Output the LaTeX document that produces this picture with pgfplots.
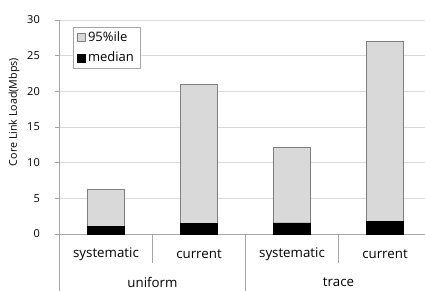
\documentclass[border=0pt]{standalone}
\usepackage{pgfplots}
\pgfplotsset{compat=1.18}
\usepackage{fontspec}
\setmainfont{Open Sans}
\definecolor{barfill}{HTML}{D9D9D9}
\definecolor{barline}{HTML}{7F7F7F}
\definecolor{gridc}{HTML}{D9D9D9}
\definecolor{axc}{HTML}{A6A6A6}
\begin{document}
\begin{tikzpicture}[x=1bp,y=1bp]
\useasboundingbox (0,0) rectangle (425,291);
\begin{axis}[
  at={(59.5bp,57bp)}, anchor=south west,
  scale only axis, width=365.5bp, height=214bp,
  ybar stacked, bar width=0.4,
  xmin=-0.5, xmax=3.43, ymin=0, ymax=30,
  ytick={0,5,...,30},
  ymajorgrids, grid style={gridc, line width=0.8bp},
  axis x line*=bottom, axis y line*=left,
  axis line style={axc, line width=0.8bp},
  /pgf/number format/assume math mode=true,
  yticklabel style={font=\fontsize{11bp}{13bp}\selectfont, inner sep=0pt, anchor=east, xshift=-15bp},
  ytick style={axc, line width=0.8bp},
  tick align=outside, major tick length=4.5bp,
  xtick={0,1,2,3},
  xticklabels={systematic,current,systematic,current},
  xtick style={draw=none},
  xticklabel style={font=\fontsize{13.3bp}{15bp}\selectfont, inner sep=0pt, anchor=center, yshift=-15.5bp},
  extra x ticks={0.5,2.5},
  extra x tick labels={uniform,trace},
  extra x tick style={grid=none, xtick style={draw=none}, xticklabel style={yshift=-28bp}},
  ylabel={Core Link Load(Mbps)},
  ylabel style={font=\fontsize{10.7bp}{12bp}\selectfont, at={(axis description cs:0,0.570)}, anchor=center, yshift=45.5bp},
  clip=false,
  legend style={at={(axis description cs:0.037,0.967)}, anchor=north west, draw=axc, font=\fontsize{13bp}{15bp}\selectfont, inner xsep=4bp, inner ysep=2.5bp, row sep=5bp},
  legend cell align=left,
  reverse legend,
  legend image code/.code={\draw[#1] (1bp,-4bp) rectangle (9bp,4bp);},
]
\addplot[fill=black, draw=black] coordinates {(0,1.1) (1,1.45) (2,1.55) (3,1.78)};
\addplot[fill=barfill, draw=barline, line width=0.8bp] coordinates {(0,5.2) (1,19.55) (2,10.55) (3,25.22)};
\legend{median,95\%ile}
\draw[axc, line width=0.8bp] (axis cs:-0.5,0) -- ([yshift=-57bp]axis cs:-0.5,0);
\draw[axc, line width=0.8bp] (axis cs:0.5,0) -- ([yshift=-29bp]axis cs:0.5,0);
\draw[axc, line width=0.8bp] (axis cs:1.5,0) -- ([yshift=-57bp]axis cs:1.5,0);
\draw[axc, line width=0.8bp] (axis cs:2.5,0) -- ([yshift=-29bp]axis cs:2.5,0);
\end{axis}
\end{tikzpicture}
\end{document}
